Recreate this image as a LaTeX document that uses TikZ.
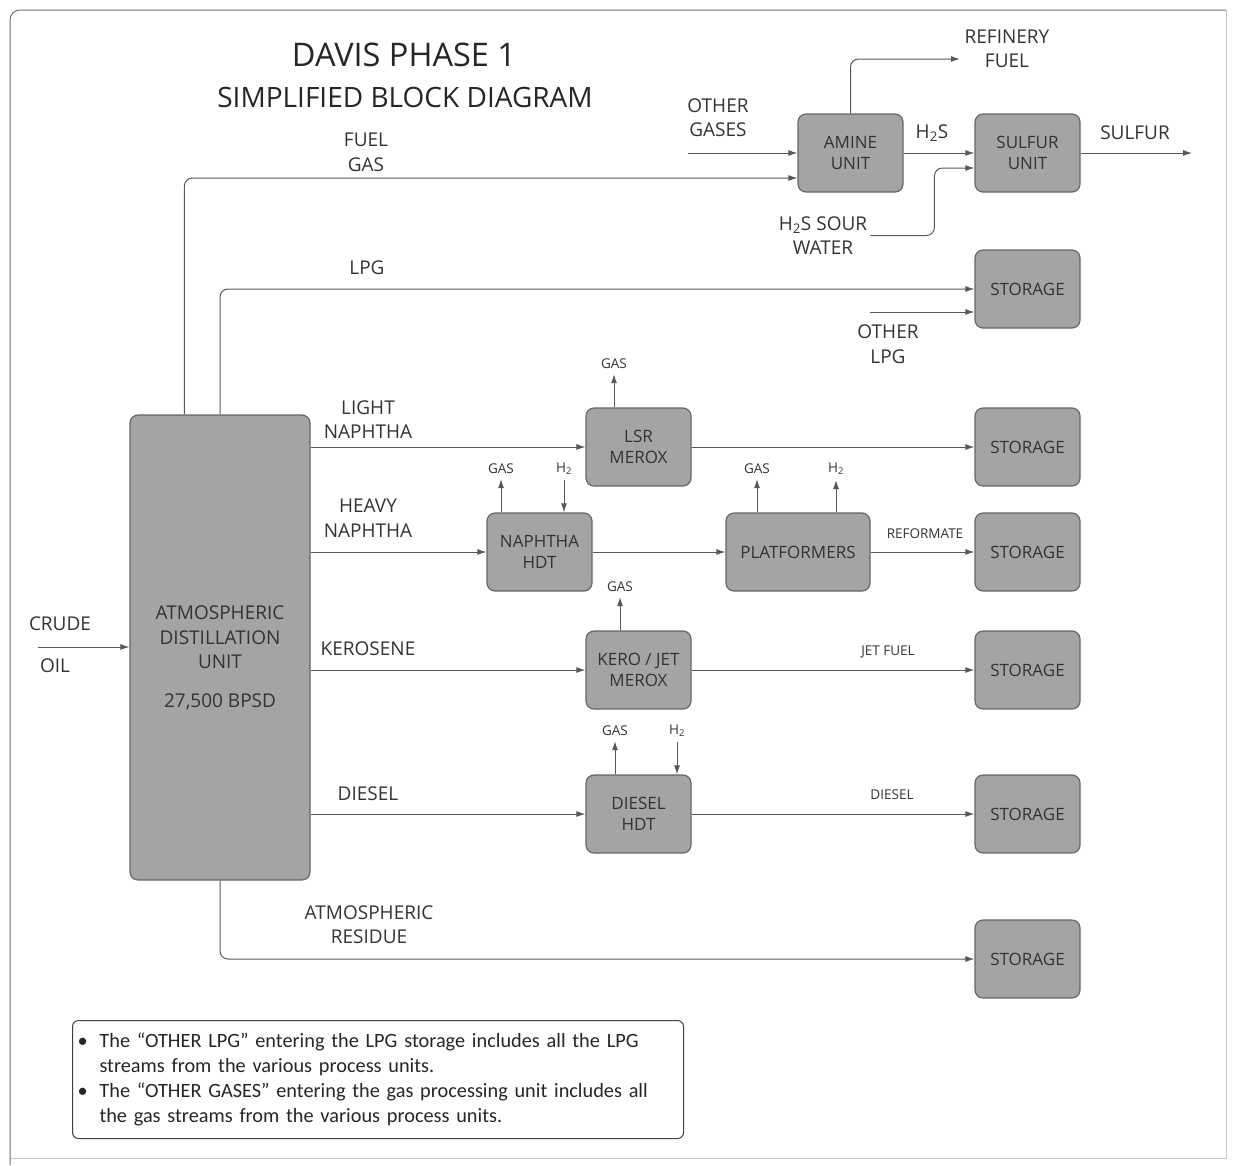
\documentclass[tikz,border=0pt]{standalone}
\usepackage{fontspec}
\setmainfont{Open Sans}
\newfontfamily\notefont{Carlito}
\usepackage{tikz}
\usetikzlibrary{arrows.meta,calc}
\definecolor{boxfill}{HTML}{A4A4A4}
\definecolor{boxline}{HTML}{666666}
\definecolor{flowline}{HTML}{585858}
\definecolor{labtext}{HTML}{333333}
\definecolor{framec}{HTML}{6E6E6E}

\begin{document}
\begin{tikzpicture}[x=1pt,y=-1pt,
  unit/.style={draw=boxline,fill=boxfill,line width=1.2pt,rounded corners=8pt,minimum width=105pt,minimum height=78pt,inner sep=0pt,align=center,text=labtext,font=\fontsize{17}{21}\selectfont},
  flow/.style={-{Latex[length=9pt,width=6pt]},draw=flowline,line width=1pt,rounded corners=8pt},
  lab/.style={align=center,text=labtext,font=\fontsize{19}{24.5}\selectfont,inner sep=3pt},
  sml/.style={align=center,text=labtext,font=\fontsize{13.5}{16}\selectfont,inner sep=5pt}]

\useasboundingbox (0,0) rectangle (1233,1165);

% frame
\draw[framec!40,line width=0.8pt] (1226,10) -- (1226,1158) -- (10,1158);
\draw[framec,line width=1pt,rounded corners=10pt] (10,1165) -- (10,10) -- (1226,10);

\node[text=black!85,font=\fontsize{32.5}{37}\selectfont] (title) at (404,55) {DAVIS PHASE 1};
\node[text=black!85,font=\fontsize{28}{33}\selectfont] (subtitle) at (405,97) {SIMPLIFIED BLOCK DIAGRAM};

% units
\node[unit,minimum width=180pt,minimum height=465pt] (adu) at (220,647.5) {};
\node[lab] (adutext) at (220,658) {ATMOSPHERIC\\DISTILLATION\\UNIT\\[14pt]27,500 BPSD};

\node[unit] (amine) at (850.5,153) {AMINE\\UNIT};
\node[unit] (sulfur) at (1027.5,153) {SULFUR\\UNIT};

\node[unit] (st1) at (1027.5,289) {STORAGE};
\node[unit] (st2) at (1027.5,447) {STORAGE};
\node[unit] (st3) at (1027.5,552) {STORAGE};
\node[unit] (st4) at (1027.5,670) {STORAGE};
\node[unit] (st5) at (1027.5,814) {STORAGE};
\node[unit] (st6) at (1027.5,959) {STORAGE};

\node[unit] (lsr) at (638.5,447) {LSR\\MEROX};
\node[unit] (nhdt) at (539.5,552) {NAPHTHA\\HDT};
\node[unit,minimum width=144pt] (plat) at (798,552) {PLATFORMERS};
\node[unit] (kero) at (638.5,670) {KERO / JET\\MEROX};
\node[unit] (dhdt) at (638.5,814) {DIESEL\\HDT};

% stream labels
\node[lab] (crudel) at (60,624) {CRUDE};
\node[lab] (oill) at (55,666) {OIL};
\node[lab] (fuelgas) at (366,152.5) {FUEL\\GAS};
\node[lab] (othgas) at (718,117.5) {OTHER\\GASES};
\node[lab] (refuel) at (1007,49) {REFINERY\\FUEL};
\node[lab] (h2s) at (932,133) {H\textsubscript{2}S};
\node[lab] (sulf) at (1135,133) {SULFUR};
\node[lab] (swl) at (823,235.5) {H\textsubscript{2}S SOUR\\WATER};
\node[lab] (lpg) at (367,268) {LPG};
\node[lab] (othlpg) at (888,344) {OTHER\\LPG};
\node[lab] (ltn) at (368,419.5) {LIGHT\\NAPHTHA};
\node[lab] (hvn) at (368,518) {HEAVY\\NAPHTHA};
\node[lab] (kerl) at (368,649) {KEROSENE};
\node[lab] (dsl) at (368,794) {DIESEL};
\node[lab] (resid) at (369,924.5) {ATMOSPHERIC\\RESIDUE};

\node[sml] (g1) at (614,364) {GAS};
\node[sml] (g2) at (501,469) {GAS};
\node[sml] (h1) at (564,469) {H\textsubscript{2}};
\node[sml] (g3) at (757,469) {GAS};
\node[sml] (h2) at (836,469) {H\textsubscript{2}};
\node[sml] (g4) at (620,587) {GAS};
\node[sml] (g5) at (615,731) {GAS};
\node[sml] (h3) at (677,731) {H\textsubscript{2}};
\node[sml] (refl) at (925,534) {REFORMATE};
\node[sml] (jetl) at (888,652) {JET FUEL};
\node[sml] (dsll) at (892,795) {DIESEL};

\coordinate (crude) at (38,647);
\coordinate (ogas) at (688,153);
\coordinate (rfuel) at (960,59);
\coordinate (sout) at (1192,153);
\coordinate (olpg) at (870,312);

% flows
\draw[flow] (crude) -- (crude -| adu.west);
\draw[flow] ([xshift=55pt]adu.north west) |- ([yshift=-25pt]amine.west);
\draw[flow] (ogas) -- (amine.west);
\draw[flow] (amine.north) |- (rfuel);
\draw[flow] (amine.east) -- (sulfur.west);
\draw[flow] (swl.east) -| ([xshift=-40pt,yshift=-15pt]sulfur.west) -- ([yshift=-15pt]sulfur.west);
\draw[flow] (sulfur.east) -- (sout);

\draw[flow] (adu.north) |- (st1.west);
\draw[flow] (olpg) -- (olpg -| st1.west);

\draw[flow] (adu.east |- lsr.west) -- (lsr.west);
\draw[flow] (lsr.east) -- (st2.west);
\draw[flow] (lsr.north -| g1) -- (g1.south);

\draw[flow] (adu.east |- nhdt.west) -- (nhdt.west);
\draw[flow] (nhdt.north -| g2) -- (g2.south);
\draw[flow] (h1.south) -- (nhdt.north -| h1);
\draw[flow] (nhdt.east) -- (plat.west);
\draw[flow] (plat.north -| g3) -- (g3.south);
\draw[flow] (plat.north -| h2) -- (h2.south);
\draw[flow] (plat.east) -- (st3.west);

\draw[flow] (adu.east |- kero.west) -- (kero.west);
\draw[flow] (kero.north -| g4) -- (g4.south);
\draw[flow] (kero.east) -- (st4.west);

\draw[flow] (adu.east |- dhdt.west) -- (dhdt.west);
\draw[flow] (dhdt.north -| g5) -- (g5.south);
\draw[flow] (h3.south) -- (dhdt.north -| h3);
\draw[flow] (dhdt.east) -- (st5.west);

\draw[flow] (adu.south) |- (st6.west);

% notes
\node[draw=black!75,line width=1pt,rounded corners=6pt,anchor=north west,text width=601pt,minimum height=118pt,inner sep=5pt,align=left,text=black!85,font=\notefont\fontsize{20.3}{25}\selectfont] (note) at (72,1020)
{\makebox[22pt][l]{\textbullet}The “OTHER LPG” entering the LPG storage includes all the LPG\\
\hspace*{22pt}streams from the various process units.\\
\makebox[22pt][l]{\textbullet}The “OTHER GASES” entering the gas processing unit includes all\\
\hspace*{22pt}the gas streams from the various process units.};

\end{tikzpicture}
\end{document}
